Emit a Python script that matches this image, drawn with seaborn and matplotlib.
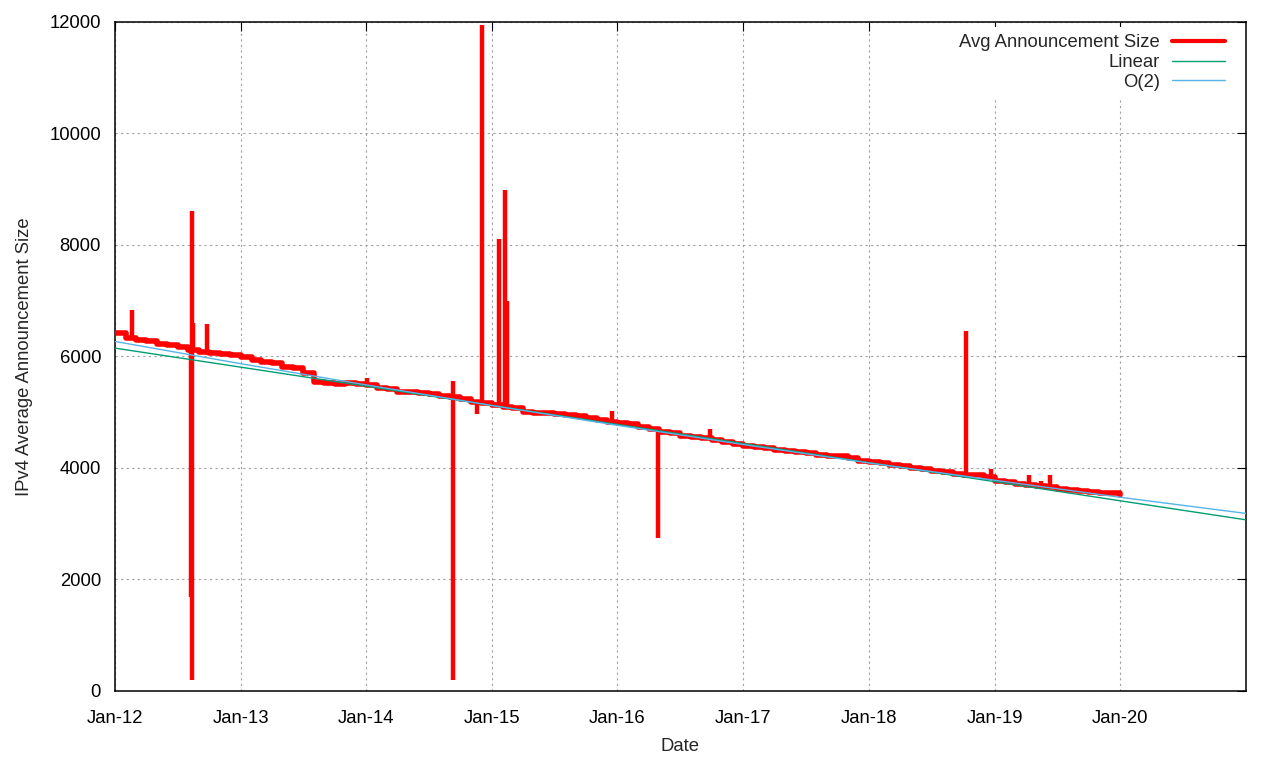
import pandas as pd
import seaborn as sns
import matplotlib.pyplot as plt
import matplotlib.dates as mdates
from matplotlib.lines import Line2D

# monthly average announcement size, Jan 2012 .. Jan 2020
months = pd.date_range("2012-01-01", "2020-01-01", freq="MS")
avg_size = [
    6420, 6330, 6300, 6270, 6220, 6200, 6170, 6120, 6080, 6060, 6040, 6020,  # 2012
    5990, 5940, 5900, 5880, 5820, 5790, 5700, 5540, 5520, 5510, 5520, 5500,  # 2013
    5490, 5440, 5420, 5370, 5360, 5350, 5330, 5300, 5270, 5240, 5180, 5170,  # 2014
    5130, 5100, 5070, 5010, 4990, 4990, 4970, 4950, 4930, 4900, 4860, 4830,  # 2015
    4800, 4780, 4740, 4700, 4650, 4620, 4580, 4550, 4530, 4500, 4460, 4430,  # 2016
    4390, 4380, 4350, 4330, 4310, 4280, 4270, 4240, 4220, 4210, 4180, 4130,  # 2017
    4110, 4090, 4050, 4030, 4000, 3980, 3950, 3920, 3900, 3880, 3870, 3840,  # 2018
    3770, 3740, 3720, 3700, 3670, 3660, 3620, 3610, 3590, 3570, 3550, 3550,  # 2019
    3520,                                                                    # 2020
]

# single-day outliers: level before the jump and the jump value
spike_dates = ["2012-02-20", "2012-08-10", "2012-08-13", "2012-08-16", "2012-09-24",
               "2014-01-03", "2014-09-10", "2014-11-20", "2014-12-03", "2015-01-21",
               "2015-02-08", "2015-02-14", "2015-12-15", "2016-04-27", "2016-09-26",
               "2018-10-10", "2018-12-22", "2019-04-10", "2019-05-16", "2019-06-10"]
spike_from = [6330, 6120, 200, 6120, 6080,
              5490, 200, 5180, 5170, 5130,
              5100, 5100, 4830, 4700, 4530,
              3880, 3840, 3700, 3670, 3660]
spike_to = [6830, 1690, 8610, 6600, 6580,
            5610, 5560, 4960, 11950, 8100,
            8980, 7000, 5020, 2740, 4700,
            6460, 3980, 3870, 3760, 3870]

# fitted trends, read at each January
fit_dates = pd.to_datetime(["2012-01-01", "2013-01-01", "2014-01-01", "2015-01-01", "2016-01-01",
                            "2017-01-01", "2018-01-01", "2019-01-01", "2020-01-01", "2021-01-01"])
linear_fit = [6150, 5808, 5466, 5123, 4781, 4439, 4097, 3755, 3412, 3070]
quad_fit = [6270, 5870, 5490, 5120, 4765, 4420, 4090, 3780, 3475, 3185]

RED = "#ff0000"
GREEN = "#009e73"
BLUE = "#56b4e9"
FS = 13.3

sns.set_style("white")
plt.rcParams["font.family"] = ["Liberation Sans", "DejaVu Sans"]

fig = plt.figure(figsize=(12.8, 7.6), dpi=100)
ax = fig.add_axes([0.0898, 0.0908, 0.8836, 0.8803])

df = pd.DataFrame({"date": months, "size": avg_size})
sns.lineplot(data=df, x="date", y="size", ax=ax, color=RED, linewidth=4.0,
             drawstyle="steps-post", zorder=3)
ax.vlines(pd.to_datetime(spike_dates), spike_from, spike_to, color=RED,
          linewidth=3.2, zorder=3)

fits = pd.DataFrame({"date": fit_dates, "linear": linear_fit, "quad": quad_fit})
sns.lineplot(data=fits, x="date", y="linear", ax=ax, color=GREEN, linewidth=1.0, zorder=4)
sns.lineplot(data=fits, x="date", y="quad", ax=ax, color=BLUE, linewidth=1.0, zorder=4)

ax.set_xlim(pd.Timestamp("2012-01-01"), pd.Timestamp("2021-01-01"))
ax.set_ylim(0, 12000)
year_ticks = pd.to_datetime([f"{y}-01-01" for y in range(2012, 2021)])
ax.set_xticks(year_ticks)
ax.xaxis.set_major_formatter(mdates.DateFormatter("%b-%y"))
ax.set_yticks(range(0, 12001, 2000))

ax.grid(True, color="#a0a0a0", linestyle=(0, (2, 3)), linewidth=0.8)
ax.set_axisbelow(True)
for s in ax.spines.values():
    s.set_color("black")
    s.set_linewidth(1.1)
ax.tick_params(direction="in", length=6.5, width=0.8, top=True, right=True,
               labelsize=FS, colors="black")
ax.tick_params(axis="x", pad=13.5)
ax.tick_params(axis="y", pad=10)

ax.set_xlabel("Date", fontsize=FS, labelpad=8)
ax.set_ylabel("IPv4 Average Announcement Size", fontsize=FS, labelpad=12)

handles = [Line2D([], [], color=RED, linewidth=3.0),
           Line2D([], [], color=GREEN, linewidth=1.0),
           Line2D([], [], color=BLUE, linewidth=1.0)]
labels = ["Avg Announcement Size", "Linear", "O(2)"]
leg = ax.legend(handles, labels, loc="upper right", bbox_to_anchor=(0.988, 0.9925),
                markerfirst=False, fontsize=FS,
                frameon=True, framealpha=1.0, facecolor="white", edgecolor="none",
                handlelength=2.87, handletextpad=0.65, labelspacing=0.15,
                borderaxespad=0.0, borderpad=0.4, fancybox=False)
leg.set_zorder(5)

fig.savefig("out.png", dpi=100)
